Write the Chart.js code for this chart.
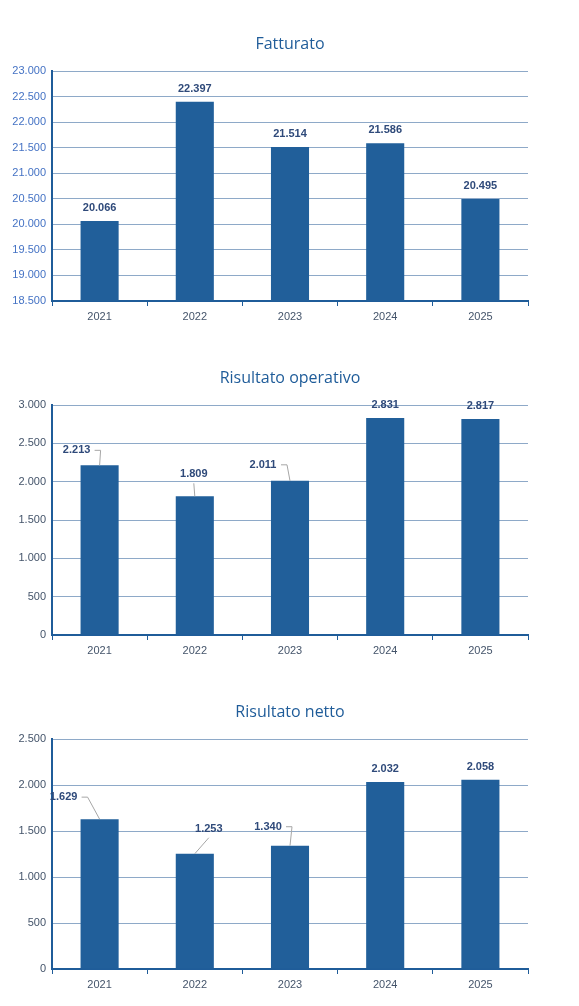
<!DOCTYPE html>
<html>
<head>
<meta charset="utf-8">
<script src="https://cdn.jsdelivr.net/npm/chart.js@4"></script>
<style>
  body { margin: 0; background: #fff; }
  .box { position: absolute; left: 0; width: 579px; height: 330px; }
</style>
</head>
<body>
<div class="box" style="top:0"><canvas id="c1"></canvas></div>
<div class="box" style="top:334px"><canvas id="c2"></canvas></div>
<div class="box" style="top:668px"><canvas id="c3"></canvas></div>
<script>
// Dati
const anni = ['2021', '2022', '2023', '2024', '2025'];
const fatturato = [20066, 22397, 21514, 21586, 20495];
const risultatoOperativo = [2213, 1809, 2011, 2831, 2817];
const risultatoNetto = [1629, 1253, 1340, 2032, 2058];

const fmt = v => new Intl.NumberFormat('de-DE').format(v);

// Titolo + etichette dati (con linee guida dove spostate)
const labelPlugin = {
    id: 'labels',
    afterDatasetsDraw(chart, args, opts) {
        const ctx = chart.ctx;
        ctx.save();
        ctx.font = '16px "Open Sans", "Noto Sans", sans-serif';
        ctx.fillStyle = '#1F5C99';
        ctx.textAlign = 'center';
        ctx.textBaseline = 'middle';
        ctx.fillText(opts.title, 290, 44);

        const meta = chart.getDatasetMeta(0);
        ctx.font = 'bold 11px "Liberation Sans", Arial, sans-serif';
        meta.data.forEach((bar, i) => {
            const off = (opts.offsets && opts.offsets[i]) || [0, -13];
            const lx = bar.x + off[0], ly = bar.y + off[1];
            if (opts.offsets && opts.offsets[i]) {
                ctx.strokeStyle = '#A6A6A6';
                ctx.lineWidth = 1;
                ctx.beginPath();
                const sx = off[0] < -15 ? lx + 18 : lx;
                const sy = off[0] < -15 ? ly : ly + 9;
                ctx.moveTo(sx, sy);
                if (off[0] < -15) { ctx.lineTo(sx + 6, sy); }
                ctx.lineTo(bar.x, bar.y);
                ctx.stroke();
            }
            ctx.fillStyle = '#2F4A7A';
            ctx.fillText(fmt(chart.data.datasets[0].data[i]), lx, ly);
        });
        ctx.restore();
    }
};

function makeChart(id, title, data, min, max, step, offsets, tickColor) {
    return new Chart(document.getElementById(id), {
        type: 'bar',
        data: {
            labels: anni,
            datasets: [{
                data: data,
                backgroundColor: '#215F9A',
                barPercentage: 0.4,
                categoryPercentage: 1
            }]
        },
        options: {
            responsive: true,
            maintainAspectRatio: false,
            animation: false,
            layout: { padding: { top: 71, right: 51, left: 0, bottom: 0 } },
            plugins: {
                legend: { display: false },
                tooltip: { enabled: false },
                labels: { title: title, offsets: offsets }
            },
            scales: {
                y: {
                    min: min, max: max,
                    afterFit: s => { s.width = 52; },
                    ticks: {
                        stepSize: step,
                        color: tickColor,
                        padding: 6,
                        font: { size: 11, family: '"Liberation Sans", Arial, sans-serif' },
                        callback: v => fmt(v)
                    },
                    grid: { color: '#8EA9C8', drawTicks: false },
                    border: { color: '#1F5C99', width: 2 }
                },
                x: {
                    afterFit: s => { s.height = 29; },
                    ticks: {
                        color: '#44546A',
                        padding: 4,
                        font: { size: 11, family: '"Liberation Sans", Arial, sans-serif' }
                    },
                    grid: { offset: true, drawOnChartArea: false, tickLength: 5, color: '#1F5C99' },
                    border: { color: '#1F5C99', width: 2 }
                }
            }
        },
        plugins: [labelPlugin]
    });
}

makeChart('c1', 'Fatturato', fatturato, 18500, 23000, 500, null, '#4472C4');
makeChart('c2', 'Risultato operativo', risultatoOperativo, 0, 3000, 500,
    [[-23, -15], [-1, -22], [-27, -16], null, null], '#44546A');
makeChart('c3', 'Risultato netto', risultatoNetto, 0, 2500, 500,
    [[-36, -22], [14, -25], [-22, -19], null, null], '#44546A');
</script>
</body>
</html>
